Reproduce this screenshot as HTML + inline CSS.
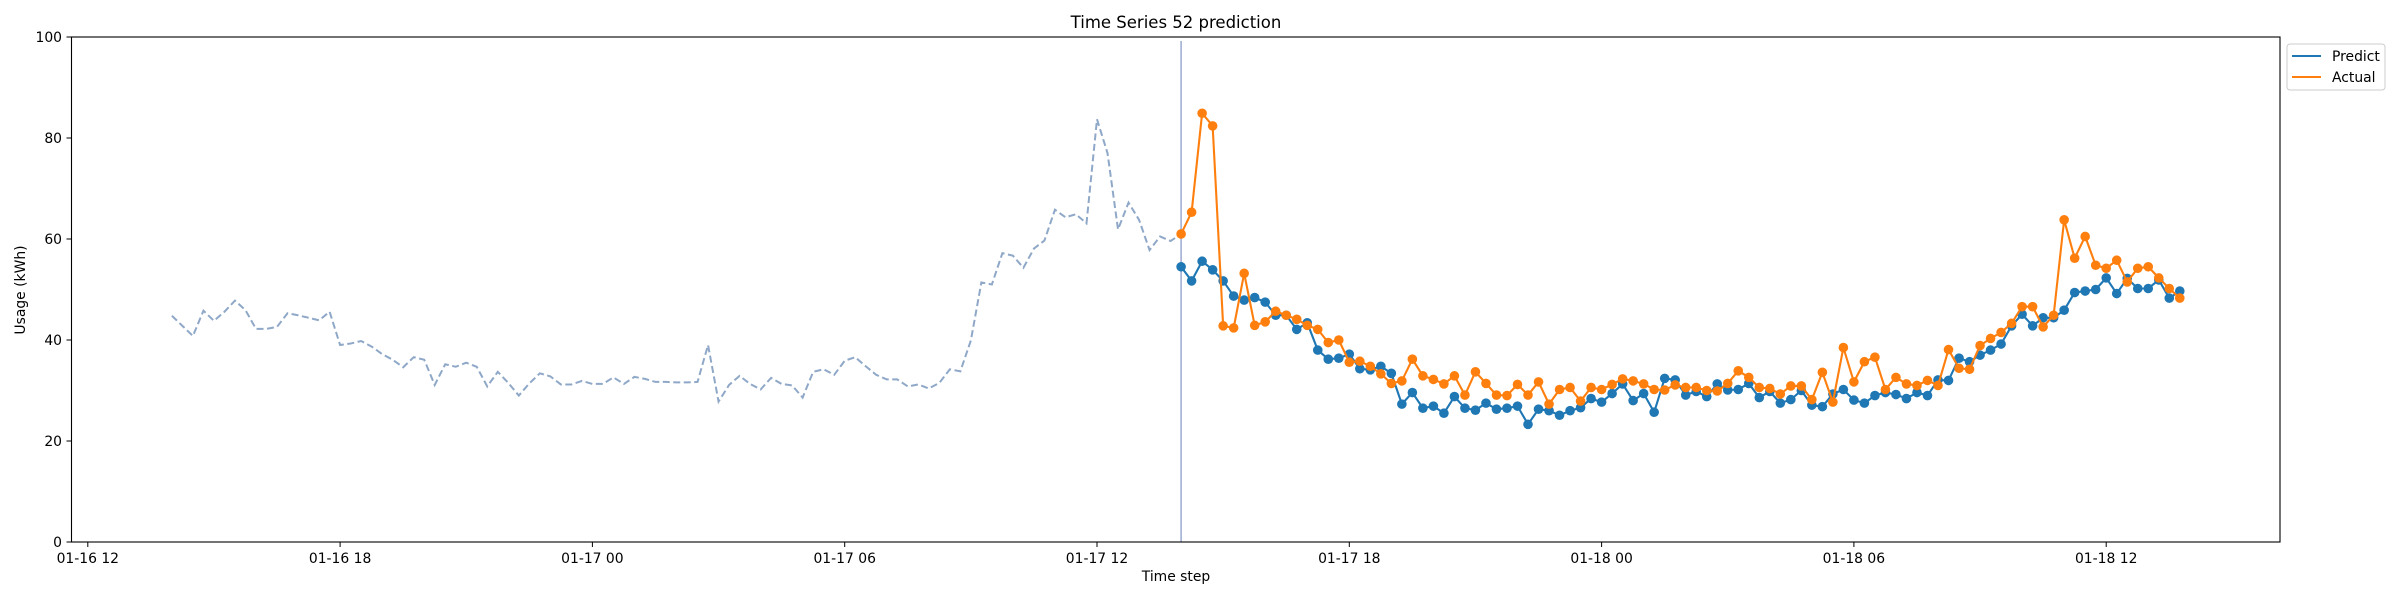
<!DOCTYPE html>
<html><head><meta charset="utf-8"><style>
html,body{margin:0;padding:0;background:#fff;}
svg{display:block;font-family:"DejaVu Sans","Liberation Sans",sans-serif;}
</style></head><body>
<svg id="chart" width="2400" height="600" viewBox="0 0 2400 600" xmlns="http://www.w3.org/2000/svg">
<rect width="2400" height="600" fill="#fff"/>
<text x="1176" y="28" text-anchor="middle" font-size="16.5" fill="#000">Time Series 52 prediction</text>
<text transform="translate(25,290) rotate(-90)" text-anchor="middle" font-size="13.9" fill="#000">Usage (kWh)</text>
<text x="1176" y="581" text-anchor="middle" font-size="13.9" fill="#000">Time step</text>
<g id="grid"></g>
<g id="marks"></g>
<rect x="71.5" y="37" width="2208.5" height="505" fill="none" stroke="#000" stroke-width="1.1"/>
<g>
<rect x="2287" y="44" width="98" height="46" rx="3" fill="#fff" stroke="#ccc"/>
<line x1="2292" y1="56" x2="2321" y2="56" stroke="#1f77b4" stroke-width="2.1"/>
<text x="2332" y="61" font-size="13.9">Predict</text>
<line x1="2292" y1="77" x2="2321" y2="77" stroke="#ff7f0e" stroke-width="2.1"/>
<text x="2332" y="82" font-size="13.9">Actual</text>
</g>
</svg>
<script>
const history = [44.8,42.8,40.8,45.8,43.8,45.6,47.8,45.9,42.2,42.2,42.6,45.3,44.9,44.4,43.9,45.6,39.0,39.3,39.8,38.7,37.2,36.1,34.6,36.6,36.1,31.1,35.2,34.7,35.5,34.7,30.8,33.7,31.5,29.0,31.4,33.4,32.8,31.2,31.2,31.9,31.3,31.3,32.6,31.3,32.7,32.3,31.7,31.7,31.6,31.6,31.7,39.0,27.8,31.1,32.9,31.3,30.2,32.5,31.3,31.0,28.6,33.7,34.2,33.1,35.9,36.6,34.8,33.1,32.2,32.2,30.8,31.2,30.4,31.5,34.2,33.8,39.9,51.4,51.0,57.2,56.7,54.3,58.1,59.7,65.8,64.3,64.9,63.1,83.7,77.0,61.9,67.2,63.8,57.8,60.5,59.6];
const actual = [61.0,65.3,84.9,82.4,42.8,42.4,53.2,42.9,43.6,45.7,44.9,44.1,42.9,42.1,39.5,40.0,35.6,35.8,34.8,33.3,31.4,31.9,36.2,32.9,32.2,31.3,32.9,29.1,33.7,31.4,29.1,29.0,31.2,29.1,31.7,27.3,30.2,30.6,27.9,30.6,30.2,31.2,32.3,31.9,31.3,30.2,30.1,31.1,30.6,30.6,30.0,29.9,31.4,33.9,32.6,30.6,30.4,29.3,30.9,30.9,28.2,33.6,27.7,38.5,31.7,35.7,36.6,30.2,32.6,31.3,31.0,32.0,31.0,38.1,34.4,34.2,38.9,40.3,41.5,43.3,46.6,46.6,42.6,44.9,63.8,56.2,60.5,54.8,54.2,55.8,51.5,54.2,54.5,52.3,50.2,48.3];
const predict = [54.5,51.7,55.6,53.9,51.7,48.7,47.9,48.4,47.5,44.9,44.9,42.1,43.4,38.0,36.2,36.4,37.2,34.3,34.1,34.8,33.4,27.3,29.6,26.5,26.9,25.5,28.8,26.5,26.1,27.5,26.3,26.5,26.9,23.3,26.3,26.0,25.1,26.0,26.6,28.4,27.7,29.4,31.3,28.0,29.4,25.7,32.4,32.1,29.1,29.8,28.8,31.3,30.1,30.2,31.4,28.6,29.8,27.5,28.2,30.0,27.1,26.8,29.3,30.2,28.1,27.5,29.0,29.6,29.2,28.4,29.6,29.0,32.1,32.0,36.4,35.7,37.0,38.0,39.2,42.8,45.1,42.8,44.4,44.4,45.9,49.4,49.7,50.0,52.3,49.2,52.2,50.2,50.2,51.9,48.3,49.7];
const yTicks = [0,20,40,60,80,100];
const xTickHours = [0,6,12,18,24,30,36,42,48];
const xTickLabels = ["01-16 12","01-16 18","01-17 00","01-17 06","01-17 12","01-17 18","01-18 00","01-18 06","01-18 12"];
const historyStartHour = 2;
const forecastStartHour = 26;
const stepHours = 0.25;

const NS = "http://www.w3.org/2000/svg";
const xs = h => 87.8 + h * 42.05;
const ys = v => 542 - v * 5.05;
const grid = document.getElementById('grid');
const marks = document.getElementById('marks');
function mk(tag, attrs, parent){const e=document.createElementNS(NS,tag);for(const k in attrs)e.setAttribute(k,attrs[k]);parent.appendChild(e);return e;}

yTicks.forEach(v=>{
  const t = mk('line',{x1:66.5,x2:71.5,y1:ys(v),y2:ys(v),stroke:'#000','stroke-width':1},grid);
  
  
  const l = mk('text',{x:62,y:ys(v)+5,'text-anchor':'end','font-size':13.9},grid);
  l.textContent = v;
  
  
});
xTickHours.forEach((h,i)=>{
  const t = mk('line',{x1:xs(h),x2:xs(h),y1:542,y2:547,stroke:'#000','stroke-width':1},grid);
  
  
  const l = mk('text',{x:xs(h),y:563,'text-anchor':'middle','font-size':13.9},grid);
  l.textContent = xTickLabels[i];
  
  
});

const vl = mk('line',{x1:xs(forecastStartHour),x2:xs(forecastStartHour),y1:41,y2:542,stroke:'#9aaad0','stroke-width':1.5},marks);



const histPts = history.map((v,i)=>xs(historyStartHour+i*stepHours)+','+ys(v));
histPts.push(xs(forecastStartHour)+','+ys(actual[0]));
const hl = mk('polyline',{points:histPts.join(' '),fill:'none',stroke:'#8fa8c8','stroke-width':2,'stroke-dasharray':'7,3.5'},marks);



function series(arr,color,name){
  const g = mk('g',{},marks);
  
  
  const pts = arr.map((v,j)=>xs(forecastStartHour+j*stepHours)+','+ys(v)).join(' ');
  const pl = mk('polyline',{points:pts,fill:'none',stroke:color,'stroke-width':2.1},g);
  
  
  arr.forEach((v,j)=>{
    const c = mk('circle',{cx:xs(forecastStartHour+j*stepHours),cy:ys(v),r:4.8,fill:color},g);
    
    
  });
}
series(predict,'#1f77b4','predict');
series(actual,'#ff7f0e','actual');
</script>
</body></html>
